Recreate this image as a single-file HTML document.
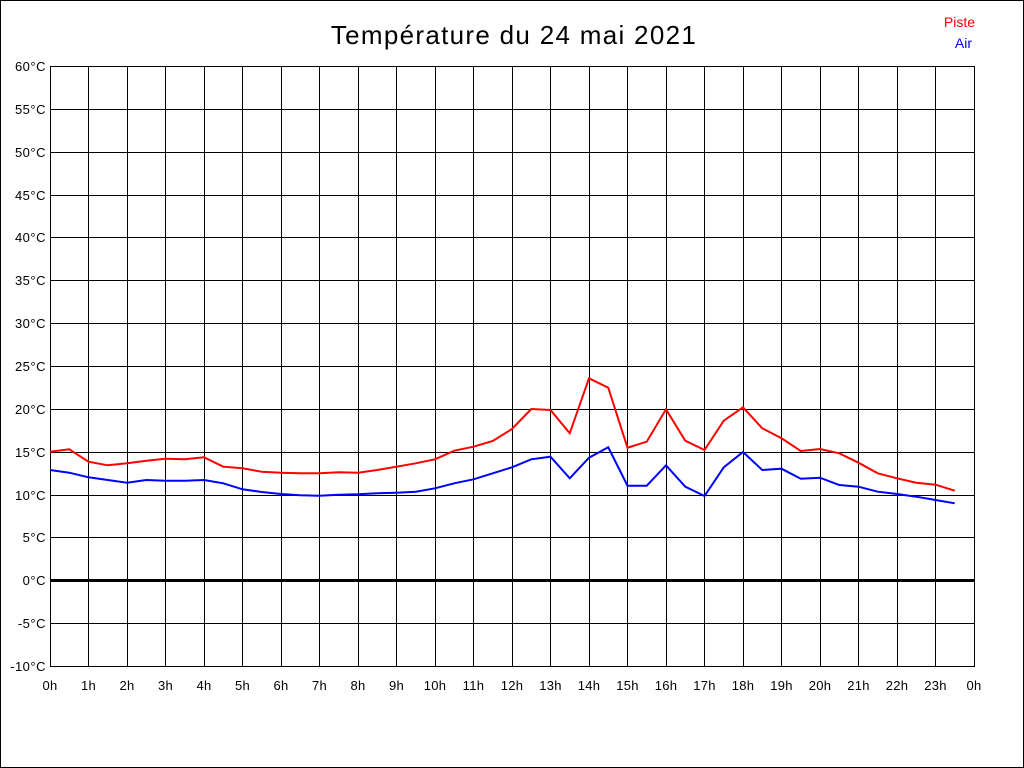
<!DOCTYPE html>
<html><head><meta charset="utf-8"><style>
html,body{margin:0;padding:0;background:#fff;}
svg{display:block;}
text{font-family:"Liberation Sans",Arial,sans-serif;}
</style></head><body>
<svg width="1024" height="768" viewBox="0 0 1024 768" xmlns="http://www.w3.org/2000/svg">
<rect x="0.5" y="0.5" width="1023" height="767" fill="#fff" stroke="#000" stroke-width="1"/>
<text x="514" y="44" font-size="26" letter-spacing="1.3" text-anchor="middle" fill="#000">Température du 24 mai 2021</text>
<text x="975" y="27" font-size="14" text-anchor="end" fill="#ff0000">Piste</text>
<text x="972" y="48" font-size="14" text-anchor="end" fill="#0000ff">Air</text>
<g stroke="#000" stroke-width="1" shape-rendering="crispEdges" fill="none">
<path d="M50.5 66V667M88.5 66V667M127.5 66V667M165.5 66V667M204.5 66V667M242.5 66V667M281.5 66V667M319.5 66V667M358.5 66V667M396.5 66V667M435.5 66V667M473.5 66V667M512.5 66V667M550.5 66V667M589.5 66V667M627.5 66V667M666.5 66V667M704.5 66V667M743.5 66V667M781.5 66V667M820.5 66V667M858.5 66V667M897.5 66V667M935.5 66V667M974.5 66V667"/>
<path d="M50 66.5H975M50 109.5H975M50 152.5H975M50 195.5H975M50 237.5H975M50 280.5H975M50 323.5H975M50 366.5H975M50 409.5H975M50 452.5H975M50 495.5H975M50 537.5H975M50 623.5H975M50 666.5H975"/>
<path d="M50 580.5H975" stroke-width="3"/>
</g>
<g font-size="13" letter-spacing="0.5" fill="#000" text-anchor="end">
<text x="46" y="71">60°C</text>
<text x="46" y="114">55°C</text>
<text x="46" y="157">50°C</text>
<text x="46" y="200">45°C</text>
<text x="46" y="242">40°C</text>
<text x="46" y="285">35°C</text>
<text x="46" y="328">30°C</text>
<text x="46" y="371">25°C</text>
<text x="46" y="414">20°C</text>
<text x="46" y="457">15°C</text>
<text x="46" y="500">10°C</text>
<text x="46" y="542">5°C</text>
<text x="46" y="585">0°C</text>
<text x="46" y="628">-5°C</text>
<text x="46" y="671">-10°C</text>
</g>
<g font-size="13" letter-spacing="0.3" fill="#000" text-anchor="middle">
<text x="50" y="690">0h</text>
<text x="88.5" y="690">1h</text>
<text x="127" y="690">2h</text>
<text x="165.5" y="690">3h</text>
<text x="204" y="690">4h</text>
<text x="242.5" y="690">5h</text>
<text x="281" y="690">6h</text>
<text x="319.5" y="690">7h</text>
<text x="358" y="690">8h</text>
<text x="396.5" y="690">9h</text>
<text x="435" y="690">10h</text>
<text x="473.5" y="690">11h</text>
<text x="512" y="690">12h</text>
<text x="550.5" y="690">13h</text>
<text x="589" y="690">14h</text>
<text x="627.5" y="690">15h</text>
<text x="666" y="690">16h</text>
<text x="704.5" y="690">17h</text>
<text x="743" y="690">18h</text>
<text x="781.5" y="690">19h</text>
<text x="820" y="690">20h</text>
<text x="858.5" y="690">21h</text>
<text x="897" y="690">22h</text>
<text x="935.5" y="690">23h</text>
<text x="974" y="690">0h</text>
</g>
<polyline fill="none" stroke="#0000ff" stroke-width="2" stroke-linejoin="miter" points="50,470 69.25,472.7 88.5,477.3 107.75,480 127,482.7 146.25,480 165.5,480.7 184.75,480.7 204,480 223.25,483.3 242.5,489.3 261.75,492 281,494 300.25,495.3 319.5,495.7 338.75,494.7 358,494.3 377.25,493.3 396.5,492.7 415.75,491.7 435,488.3 454.25,483.3 473.5,479.3 492.75,473.3 512,467.3 531.25,459.3 550.5,456.7 569.75,478.3 589,457.7 608.25,447.3 627.5,485.7 646.75,485.7 666,465.3 685.25,486.7 704.5,496 723.75,467.3 743,452 762.25,470 781.5,468.7 800.75,478.7 820,477.7 839.25,485 858.5,486.7 877.75,491.7 897,494 916.25,496.7 935.5,500 954.75,503.3"/>
<polyline fill="none" stroke="#ff0000" stroke-width="2" stroke-linejoin="miter" points="50,451.7 69.25,449.3 88.5,461.7 107.75,465.3 127,463.3 146.25,460.7 165.5,458.7 184.75,459.3 204,457.3 223.25,466.7 242.5,468.3 261.75,471.7 281,472.7 300.25,473.3 319.5,473.3 338.75,472.3 358,472.7 377.25,470 396.5,466.7 415.75,463.3 435,459.3 454.25,450.7 473.5,446.7 492.75,441 512,429 531.25,409 550.5,410 569.75,433.3 589,378.3 608.25,387.7 627.5,447.7 646.75,441.7 666,409.3 685.25,440.7 704.5,450 723.75,420.7 743,407.3 762.25,428.3 781.5,438.3 800.75,451 820,449 839.25,453.3 858.5,462.7 877.75,473.3 897,478.3 916.25,482.7 935.5,484.7 954.75,490.7"/>
</svg>
</body></html>
